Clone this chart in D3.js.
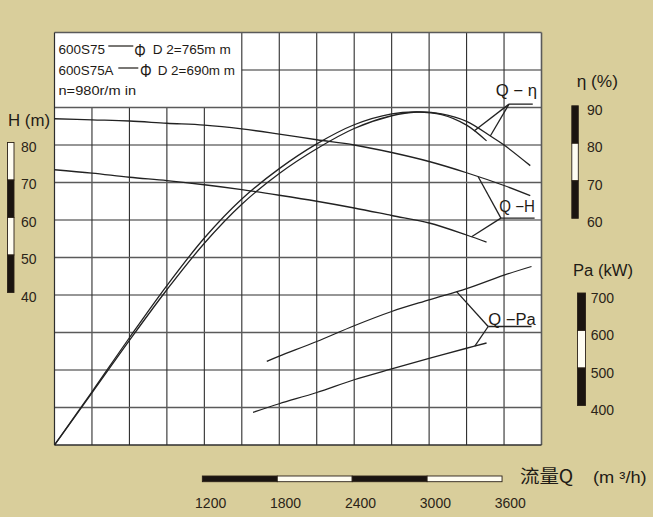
<!DOCTYPE html>
<html>
<head>
<meta charset="utf-8">
<script src="https://cdn.jsdelivr.net/npm/d3@7"></script>
<style>
  html, body { margin: 0; padding: 0; background: #d9ce9b; }
  svg { display: block; font-family: "Liberation Sans", Arial, sans-serif; }
</style>
</head>
<body>
<svg id="chart"></svg>
<script>
// tick labels of the four scale bars
const flowTicks = [1200, 1800, 2400, 3000, 3600];
const headTicks = [80, 70, 60, 50, 40];
const effTicks = [90, 80, 70, 60];
const powerTicks = [700, 600, 500, 400];

// Q-H, D2 = 765 mm and 690 mm
const qH765 = [0, 300, 600, 900, 1200, 1500, 1800, 2100, 2400, 2700, 3000, 3300, 3600, 3810];
const h765 = [87.0, 86.7, 86.4, 85.8, 85.3, 84.3, 82.9, 81.4, 80.0, 78.0, 75.6, 72.6, 69.2, 66.5];
const qH690 = [0, 300, 600, 900, 1200, 1500, 1800, 2100, 2400, 2700, 3000, 3300, 3460];
const h690 = [73.4, 72.5, 71.4, 70.5, 69.4, 68.1, 66.6, 65.0, 63.2, 61.2, 59.2, 56.0, 54.1];

// Q-eta
const qEta765 = [0, 300, 600, 900, 1200, 1500, 1800, 2100, 2400, 2700, 2900, 3100, 3300, 3500, 3600, 3810];
const eta765 = [0, 13.9, 27.9, 41.4, 53.8, 64.2, 72.4, 79.0, 84.4, 87.8, 88.8, 88.3, 86.3, 82.2, 80.0, 74.5];
const qEta690 = [0, 300, 600, 900, 1200, 1500, 1800, 2100, 2400, 2700, 2900, 3100, 3300, 3460];
const eta690 = [0, 14.2, 28.6, 42.5, 55.2, 65.6, 73.7, 80.3, 85.4, 88.3, 88.8, 88.1, 85.3, 81.1];

// Q-Pa
const qPa765 = [1700, 1800, 2100, 2400, 2700, 3000, 3300, 3600, 3820];
const pa765 = [523, 537, 576, 618, 656, 687, 717, 753, 776];
const qPa690 = [1590, 1800, 2100, 2400, 2700, 3000, 3300, 3460];
const pa690 = [387, 410, 440, 474, 503, 531, 558, 572];

var dimensions = {
    width: 653,
    height: 517,
    margin: { top: 32.5, bottom: 72, left: 54.5, right: 111.5 }
};
const m = dimensions.margin;
const ink = "#1f1b16";
const numInk = "#2b2418";

const svg = d3.select("#chart")
    .attr("width", dimensions.width)
    .attr("height", dimensions.height);

svg.append("rect")
    .attr("width", dimensions.width).attr("height", dimensions.height)
    .attr("fill", "#d9ce9b");

var xScale = d3.scaleLinear().domain([0, 3900])
    .range([m.left, dimensions.width - m.right]);
var yH = d3.scaleLinear().domain([0, 110])
    .range([dimensions.height - m.bottom, m.top]);
var yEta = d3.scaleLinear().domain([0, 110])
    .range([dimensions.height - m.bottom, m.top]);
var yPa = d3.scaleLinear().domain([300, 1400])
    .range([dimensions.height - m.bottom, m.top]);

const x0 = xScale(0), x1 = xScale(3900), yb = yH(0), yt = yH(110);

// plot area
svg.append("rect")
    .attr("x", x0).attr("y", yt)
    .attr("width", x1 - x0).attr("height", yb - yt)
    .attr("fill", "white");

// grid (legend box keeps the top-left corner clear)
const grid = svg.append("g");
grid.selectAll("line.v")
    .data(d3.range(300, 3900, 300))
    .enter().append("line")
    .attr("x1", d => xScale(d)).attr("x2", d => xScale(d))
    .attr("y1", d => d < 1500 ? yH(90) : yt)
    .attr("y2", yb)
    .attr("stroke", "#2e2e2e").attr("stroke-width", 1.1);

grid.selectAll("line.h")
    .data(d3.range(10, 110, 10))
    .enter().append("line")
    .attr("x1", d => d === 100 ? xScale(1500) : x0)
    .attr("x2", x1)
    .attr("y1", d => yH(d)).attr("y2", d => yH(d))
    .attr("stroke", d => (d / 10) % 2 === 1 ? "#5a5a5a" : "#2e2e2e")
    .attr("stroke-width", d => (d / 10) % 2 === 1 ? 1.6 : 1.1);

// plot border
grid.append("line").attr("x1", x0).attr("x2", x1).attr("y1", yt).attr("y2", yt)
    .attr("stroke", "#5a5a5a").attr("stroke-width", 1.6);
grid.append("line").attr("x1", x1).attr("x2", x1).attr("y1", yt).attr("y2", yb)
    .attr("stroke", "#5a5a5a").attr("stroke-width", 1.6);
grid.append("line").attr("x1", x0).attr("x2", x1).attr("y1", yb).attr("y2", yb)
    .attr("stroke", "#2e2e2e").attr("stroke-width", 1.4);
grid.append("line").attr("x1", x0).attr("x2", x0).attr("y1", yt).attr("y2", yb)
    .attr("stroke", "#2e2e2e").attr("stroke-width", 1.2);

// curves
const zip = (qs, vs) => qs.map((q, i) => ({ q: q, v: vs[i] }));
const curves = [
    { data: zip(qH765, h765), y: yH },
    { data: zip(qH690, h690), y: yH },
    { data: zip(qEta765, eta765), y: yEta },
    { data: zip(qEta690, eta690), y: yEta },
    { data: zip(qPa765, pa765), y: yPa },
    { data: zip(qPa690, pa690), y: yPa }
];

svg.append("g").selectAll("path")
    .data(curves)
    .enter().append("path")
    .attr("d", c => d3.line()
        .x(d => xScale(d.q))
        .y(d => c.y(d.v))
        .curve(d3.curveCatmullRom.alpha(0.5))(c.data))
    .attr("fill", "none")
    .attr("stroke", "#222")
    .attr("stroke-width", 1.3);

// value on a curve at flow q (linear between read points)
function at(qs, vs, q) {
    return d3.scaleLinear().domain(qs).range(vs)(q);
}

// curve labels with leader lines
const labels = [
    { text: "Q − η", q0: 3640, q1: 3830, v: 90.9, y: yEta, tx: 495.7, ty: 96, tl: 41.3,
      to: [[3360, at(qEta690, eta690, 3360)], [3490, at(qEta765, eta765, 3490)]] },
    { text: "Q −H", q0: 3575, q1: 3845, v: 60.5, y: yH, tx: 499.3, ty: 211.7, tl: 35.7,
      to: [[3393, at(qH765, h765, 3393)], [3340, at(qH690, h690, 3340)]] },
    { text: "Q −Pa", q0: 3473, q1: 3820, v: 616, y: yPa, tx: 488.3, ty: 325, tl: 47.4,
      to: [[3220, at(qPa765, pa765, 3220)], [3366, at(qPa690, pa690, 3366)]] }
];

const ann = svg.append("g");
labels.forEach(l => {
    ann.append("line")
        .attr("x1", xScale(l.q0)).attr("x2", xScale(l.q1))
        .attr("y1", l.y(l.v)).attr("y2", l.y(l.v))
        .attr("stroke", "#222").attr("stroke-width", 1.3);
    l.to.forEach(p => {
        ann.append("line")
            .attr("x1", xScale(l.q0)).attr("y1", l.y(l.v))
            .attr("x2", xScale(p[0])).attr("y2", l.y(p[1]))
            .attr("stroke", "#222").attr("stroke-width", 1.3);
    });
    ann.append("text")
        .attr("x", l.tx).attr("y", l.ty)
        .attr("textLength", l.tl).attr("lengthAdjust", "spacingAndGlyphs")
        .style("font-size", "16px").attr("fill", ink)
        .text(l.text);
});

// legend text inside the box
const leg = svg.append("g").attr("fill", ink);
function legText(x, y, w, size, t) {
    leg.append("text").attr("x", x).attr("y", y)
        .attr("textLength", w).attr("lengthAdjust", "spacingAndGlyphs")
        .style("font-size", size + "px").text(t);
}
legText(58.5, 54, 46.5, 13.5, "600S75");
legText(134.3, 56.5, 11.5, 19, "Φ");
legText(152.7, 54, 78, 13.5, "D 2=765m m");
legText(58.5, 74.5, 55, 13.5, "600S75A");
legText(140, 77, 11.7, 19, "Φ");
legText(157.7, 74.5, 77.3, 13.5, "D 2=690m m");
legText(58.5, 94.5, 77.5, 13.5, "n=980r/m in");
leg.append("line").attr("x1", 108.3).attr("x2", 133.3).attr("y1", 46).attr("y2", 46)
    .attr("stroke", ink).attr("stroke-width", 1.2);
leg.append("line").attr("x1", 118.3).attr("x2", 138.3).attr("y1", 68).attr("y2", 68)
    .attr("stroke", ink).attr("stroke-width", 1.2);

// scale bars
function vBar(scale, ticks, fills, x, w, nudge) {
    const g = svg.append("g");
    for (let i = 0; i < ticks.length - 1; i++) {
        const a = scale(ticks[i]) + nudge, b = scale(ticks[i + 1]) + nudge;
        g.append("rect")
            .attr("x", x).attr("y", Math.min(a, b))
            .attr("width", w).attr("height", Math.abs(b - a))
            .attr("fill", fills[i])
            .attr("stroke", "#2a2018").attr("stroke-width", 0.9);
    }
}
vBar(yH, headTicks, ["#fffdf2", "#1a1410", "#fffdf2", "#1a1410"], 7.5, 6.5, -2.5);
vBar(yEta, effTicks, ["#1a1410", "#fffdf2", "#1a1410"], 571.8, 6.5, -1.7);
vBar(yPa, powerTicks, ["#1a1410", "#fffdf2", "#1a1410"], 577.5, 8, -2);

const xb = svg.append("g");
const xFills = ["#1a1410", "#fffdf2", "#1a1410", "#fffdf2"];
for (let i = 0; i < flowTicks.length - 1; i++) {
    const a = xScale(flowTicks[i]) - 2, b = xScale(flowTicks[i + 1]) - 2;
    xb.append("rect")
        .attr("x", a).attr("y", 476)
        .attr("width", b - a).attr("height", 5.7)
        .attr("fill", xFills[i])
        .attr("stroke", "#2a2018").attr("stroke-width", 0.9);
}

// tick labels
const nums = svg.append("g").attr("fill", numInk).style("font-size", "14px");
nums.selectAll("text.h").data(headTicks).enter().append("text")
    .attr("x", 21).attr("y", d => yH(d) + 6.5).text(d => d);
nums.selectAll("text.e").data(effTicks).enter().append("text")
    .attr("x", 587).attr("y", d => yEta(d) + 7.3).text(d => d);
nums.selectAll("text.p").data(powerTicks).enter().append("text")
    .attr("x", 590.7).attr("y", d => yPa(d) + 7.5).text(d => d);
nums.selectAll("text.q").data(flowTicks).enter().append("text")
    .attr("x", d => xScale(d) + 6.3).attr("y", 508)
    .attr("text-anchor", "middle").text(d => d);

// axis titles
const titles = svg.append("g").attr("fill", ink);
titles.append("text").attr("x", 8).attr("y", 126)
    .attr("textLength", 42).attr("lengthAdjust", "spacingAndGlyphs")
    .style("font-size", "16px").text("H (m)");
titles.append("text").attr("x", 576.7).attr("y", 86.5)
    .attr("textLength", 41.3).attr("lengthAdjust", "spacingAndGlyphs")
    .style("font-size", "16px").text("η (%)");
titles.append("text").attr("x", 573).attr("y", 275.5)
    .attr("textLength", 60).attr("lengthAdjust", "spacingAndGlyphs")
    .style("font-size", "16px").text("Pa (kW)");
titles.append("text").attr("x", 520).attr("y", 482.5)
    .attr("textLength", 53.3).attr("lengthAdjust", "spacingAndGlyphs")
    .style("font-family", "'Noto Sans CJK SC', sans-serif")
    .style("font-size", "18px").text("流量Q");
titles.append("text").attr("x", 593).attr("y", 482.5)
    .attr("textLength", 53.7).attr("lengthAdjust", "spacingAndGlyphs")
    .style("font-size", "16px").text("(m ³/h)");
</script>
</body>
</html>
